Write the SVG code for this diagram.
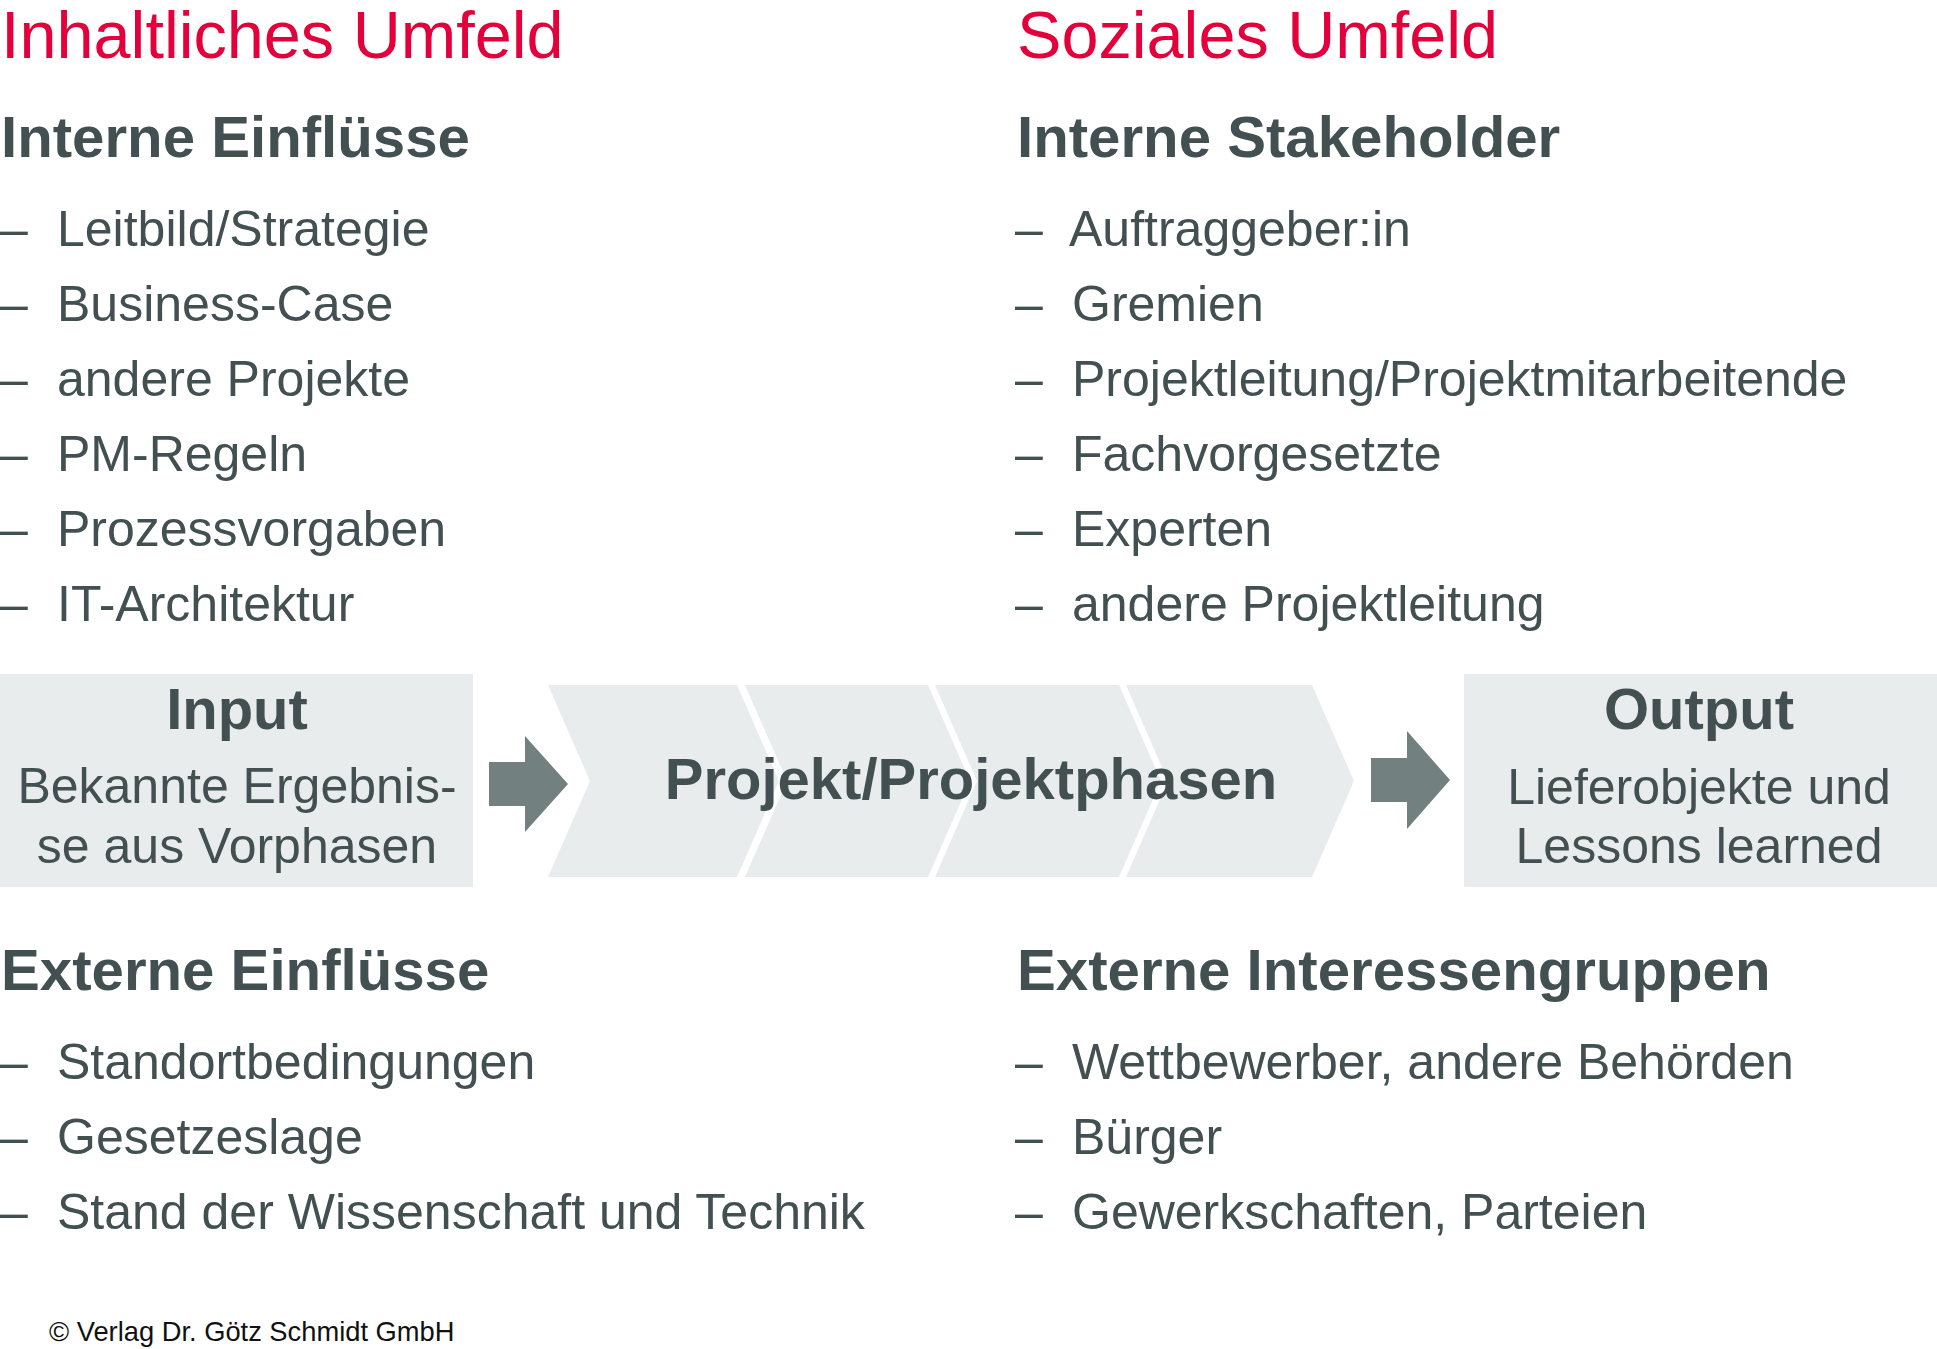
<svg xmlns="http://www.w3.org/2000/svg" width="1937" height="1349" viewBox="0 0 1937 1349">
<defs>
<style>
text{font-family:"Liberation Sans",Arial,sans-serif;fill:#435052}
.title{font-size:66.6px;fill:#E3003B}
.head{font-size:58.2px;font-weight:bold}
.item{font-size:50px}
.big{font-size:58px;font-weight:bold}
.sub{font-size:50px}
.mid{text-anchor:middle}
.box{fill:#E9ECEC}
.chev{fill:#E9ECEC}
.arrow{fill:#738080}
.copy{font-size:27.3px;fill:#111}
</style>
</defs>
<rect width="1937" height="1349" fill="#fff"/>

<g id="inhaltliches-umfeld">
<text class="title" x="1" y="58">Inhaltliches Umfeld</text>
</g>
<g id="soziales-umfeld">
<text class="title" x="1017" y="58">Soziales Umfeld</text>
</g>

<g id="interne-einfluesse">
<text class="head" x="1" y="157">Interne Einflüsse</text>
<text class="item" x="0" y="246">–</text><text class="item" x="57" y="246">Leitbild/Strategie</text>
<text class="item" x="0" y="321">–</text><text class="item" x="57" y="321">Business-Case</text>
<text class="item" x="0" y="396">–</text><text class="item" x="57" y="396">andere Projekte</text>
<text class="item" x="0" y="471">–</text><text class="item" x="57" y="471">PM-Regeln</text>
<text class="item" x="0" y="546">–</text><text class="item" x="57" y="546">Prozessvorgaben</text>
<text class="item" x="0" y="621">–</text><text class="item" x="57" y="621">IT-Architektur</text>
</g>

<g id="interne-stakeholder">
<text class="head" x="1017" y="157">Interne Stakeholder</text>
<text class="item" x="1015" y="246">–</text><text class="item" x="1069" y="246">Auftraggeber:in</text>
<text class="item" x="1015" y="321">–</text><text class="item" x="1072" y="321">Gremien</text>
<text class="item" x="1015" y="396">–</text><text class="item" x="1072" y="396">Projektleitung/Projektmitarbeitende</text>
<text class="item" x="1015" y="471">–</text><text class="item" x="1072" y="471">Fachvorgesetzte</text>
<text class="item" x="1015" y="546">–</text><text class="item" x="1072" y="546">Experten</text>
<text class="item" x="1015" y="621">–</text><text class="item" x="1072" y="621">andere Projektleitung</text>
</g>

<g id="input">
<rect class="box" x="0" y="674" width="473" height="213"/>
<text class="big mid" x="237" y="729">Input</text>
<text class="sub mid" x="237" y="803">Bekannte Ergebnis-</text>
<text class="sub mid" x="237" y="863">se aus Vorphasen</text>
</g>

<g id="projekt">
<polygon class="chev" points="548,685 737,685 779,781 737,877 548,877 590,781"/>
<polygon class="chev" points="745,685 928,685 970,781 928,877 745,877 787,781"/>
<polygon class="chev" points="935,685 1119,685 1161,781 1119,877 935,877 977,781"/>
<polygon class="chev" points="1126,685 1312,685 1354,781 1312,877 1126,877 1168,781"/>
<text class="big mid" x="971" y="799">Projekt/Projektphasen</text>
</g>

<g id="output">
<rect class="box" x="1464" y="674" width="473" height="213"/>
<text class="big mid" x="1699" y="729">Output</text>
<text class="sub mid" x="1699" y="804">Lieferobjekte und</text>
<text class="sub mid" x="1699" y="863">Lessons learned</text>
</g>

<g id="connectors">
<polygon class="arrow" points="489,762 525,762 525,736 568,784 525,832 525,806 489,806"/>
<polygon class="arrow" points="1371,758 1407,758 1407,731 1450,780 1407,829 1407,802 1371,802"/>
</g>

<g id="externe-einfluesse">
<text class="head" x="1" y="990">Externe Einflüsse</text>
<text class="item" x="0" y="1079">–</text><text class="item" x="57" y="1079">Standortbedingungen</text>
<text class="item" x="0" y="1154">–</text><text class="item" x="57" y="1154">Gesetzeslage</text>
<text class="item" x="0" y="1229">–</text><text class="item" x="57" y="1229">Stand der Wissenschaft und Technik</text>
</g>

<g id="externe-interessengruppen">
<text class="head" x="1017" y="990">Externe Interessengruppen</text>
<text class="item" x="1015" y="1079">–</text><text class="item" x="1072" y="1079">Wettbewerber, andere Behörden</text>
<text class="item" x="1015" y="1154">–</text><text class="item" x="1072" y="1154">Bürger</text>
<text class="item" x="1015" y="1229">–</text><text class="item" x="1072" y="1229">Gewerkschaften, Parteien</text>
</g>

<g id="copyright">
<text class="copy" x="49" y="1341">© Verlag Dr. Götz Schmidt GmbH</text>
</g>
</svg>
